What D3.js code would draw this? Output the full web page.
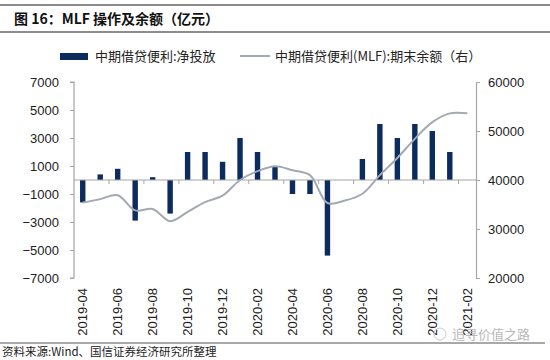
<!DOCTYPE html>
<html><head><meta charset="utf-8">
<script src="https://cdn.jsdelivr.net/npm/d3@7/dist/d3.min.js"></script>
<style>body{margin:0;background:#fff}svg{display:block}</style>
</head><body><svg id="c" width="550" height="360"></svg>
<script>
const months = ["2019-04","2019-05","2019-06","2019-07","2019-08","2019-09","2019-10","2019-11","2019-12","2020-01","2020-02","2020-03","2020-04","2020-05","2020-06","2020-07","2020-08","2020-09","2020-10","2020-11","2020-12","2021-01","2021-02"];
const netInjection = [-1600,400,800,-2900,200,-2400,2000,2000,1300,3000,2000,1000,-1000,-1000,-5400,0,1500,4000,3000,4000,3500,2000,0];
const balance = [35400,36100,36900,33800,34100,31600,33500,35500,36800,40000,41800,42800,42000,41000,35300,35800,37200,41000,44500,48400,51800,53600,53600];
const leftTicks = [-7000,-5000,-3000,-1000,1000,3000,5000,7000];
const rightTicks = [20000,30000,40000,50000,60000];
const xLabels = ["2019-04","2019-06","2019-08","2019-10","2019-12","2020-02","2020-04","2020-06","2020-08","2020-10","2020-12","2021-02"];
const title = "图 16：MLF 操作及余额（亿元）";
const source = "资料来源:Wind、国信证券经济研究所整理";
const legend1 = "中期借贷便利:净投放";
const legend2 = "中期借贷便利(MLF):期末余额（右）";
const watermark = "追寻价值之路";

const svg = d3.select("#c");
const L = 74, R = 476, T = 82, B = 278;
const axisColor = "#a6a6a6";
const barColor = "#0c2b5e";
const lineColor = "#a3a9b3";
const numFont = "'Liberation Sans', Arial, sans-serif";
const cjkFont = "'Noto Sans CJK SC', sans-serif";

svg.append("rect").attr("width",550).attr("height",360).attr("fill","#fff");

// title & frame lines
svg.append("line").attr("x1",0).attr("x2",550).attr("y1",5).attr("y2",5).attr("stroke","#8c8c8c").attr("stroke-width",2);
svg.append("line").attr("x1",0).attr("x2",550).attr("y1",32).attr("y2",32).attr("stroke","#8c8c8c").attr("stroke-width",2);
svg.append("text").attr("x",14).attr("y",24).attr("font-family",cjkFont).attr("font-weight","bold").attr("font-size",14).attr("fill","#111").text(title);

const x = d3.scaleBand().domain(months).range([L,R]).paddingInner(0).paddingOuter(0);
const yL = d3.scaleLinear().domain([-7000,7000]).range([B,T]);
const yR = d3.scaleLinear().domain([20000,60000]).range([B,T]);

// bars
const bw = 5.4;
svg.append("g").selectAll("rect").data(netInjection).join("rect")
  .attr("x",(d,i)=>x(months[i])+x.bandwidth()/2-bw/2)
  .attr("width",bw)
  .attr("y",d=>yL(Math.max(0,d)))
  .attr("height",d=>Math.abs(yL(d)-yL(0)))
  .attr("fill",barColor);

// zero line with ticks
svg.append("line").attr("x1",L).attr("x2",R).attr("y1",yL(0)).attr("y2",yL(0)).attr("stroke",axisColor).attr("stroke-width",1.2);
svg.append("g").selectAll("line").data(months.filter((m,i)=>i%2===0 && i>0)).join("line")
  .attr("x1",d=>x(d)).attr("x2",d=>x(d)).attr("y1",yL(0)).attr("y2",yL(0)+4)
  .attr("stroke",axisColor);

// left axis
const gl = svg.append("g").attr("transform",`translate(${L},0)`)
  .call(d3.axisLeft(yL).tickValues(leftTicks).tickSize(4).tickPadding(11).tickFormat(d3.format("d")));
gl.select(".domain").attr("stroke",axisColor).attr("stroke-width",1.2).attr("d",`M-4,${T}H0V${B}H-4`);
gl.selectAll(".tick line").attr("stroke",axisColor);
gl.selectAll(".tick text").attr("font-family",numFont).attr("font-size",13).attr("fill","#222");

// right axis
const gr = svg.append("g").attr("transform",`translate(${R},0)`)
  .call(d3.axisRight(yR).tickValues(rightTicks).tickSize(4).tickPadding(8).tickFormat(d3.format("d")));
gr.select(".domain").attr("stroke",axisColor).attr("stroke-width",1.2);
gr.selectAll(".tick line").attr("stroke",axisColor);
gr.selectAll(".tick text").attr("font-family",numFont).attr("font-size",13).attr("fill","#222");

// line
const line = d3.line().x((d,i)=>x(months[i])+x.bandwidth()/2).y(d=>yR(d)).curve(d3.curveCatmullRom.alpha(0.5));
svg.append("path").datum(balance).attr("d",line).attr("fill","none").attr("stroke",lineColor).attr("stroke-width",2);

// x labels
svg.append("g").selectAll("text").data(xLabels).join("text")
  .attr("transform",d=>`translate(${x(d)+x.bandwidth()/2},288) rotate(-90)`)
  .attr("text-anchor","end").attr("dy","0.36em")
  .attr("font-family",numFont).attr("font-size",13).attr("fill","#222").text(d=>d);

// legend
svg.append("rect").attr("x",60).attr("y",53).attr("width",28).attr("height",7).attr("fill",barColor);
svg.append("text").attr("x",95).attr("y",61).attr("font-family",cjkFont).attr("font-size",13).attr("fill","#222").text(legend1);
svg.append("line").attr("x1",240).attr("x2",270).attr("y1",56).attr("y2",56).attr("stroke",lineColor).attr("stroke-width",2);
svg.append("text").attr("x",275).attr("y",61).attr("font-family",cjkFont).attr("font-size",13).attr("fill","#222").text(legend2);

// footer
svg.append("line").attr("x1",0).attr("x2",545).attr("y1",343).attr("y2",343).attr("stroke","#555").attr("stroke-width",1.2);
svg.append("text").attr("x",2).attr("y",356).attr("font-family",cjkFont).attr("font-size",11.5).attr("fill","#222").text(source);
svg.append("circle").attr("cx",440).attr("cy",334).attr("r",6).attr("fill","none").attr("stroke","#c8c8c8").attr("stroke-width",1);
svg.append("text").attr("x",452).attr("y",339).attr("font-family",cjkFont).attr("font-size",13).attr("fill","#b8b8b8").text(watermark);
</script></body></html>
